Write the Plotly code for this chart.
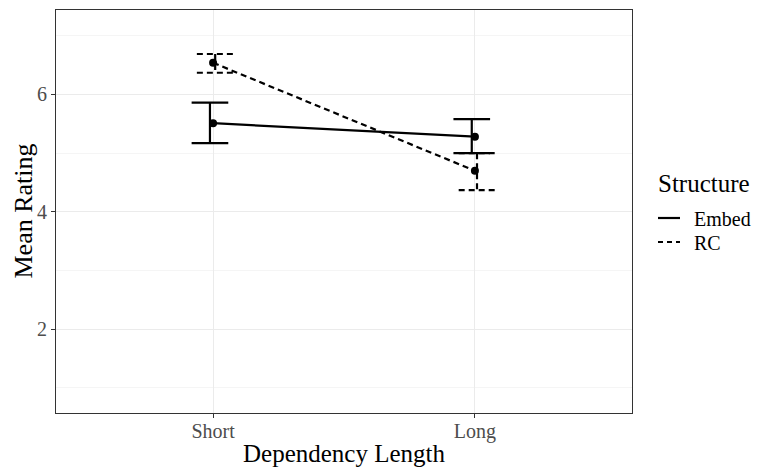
import plotly.graph_objects as go

categories = ["Short", "Long"]
cat_pos = [1, 2]
embed_mean = [5.51, 5.28]
embed_lo = [5.17, 5.00]
embed_hi = [5.86, 5.58]
rc_mean = [6.54, 4.70]
rc_lo = [6.37, 4.37]
rc_hi = [6.69, 5.00]
series_names = ["Embed", "RC"]
legend_title = "Structure"

FONT = "Liberation Serif"
DASH = "6px,4px"
W, H = 757, 468
L, R, T, B = 56, 125, 10, 55
PW, PH = W - L - R, H - T - B

fig = go.Figure()

def errbar(xs, lo, hi, dash, off, hw=0.07):
    X, Y = [], []
    for x, l, h in zip(xs, lo, hi):
        c = x + off
        X += [c - hw, c + hw, None, c, c, None, c - hw, c + hw, None]
        Y += [h, h, None, h, l, None, l, l, None]
    fig.add_trace(go.Scatter(x=X, y=Y, mode="lines", showlegend=False,
                             line=dict(color="black", width=2.2, dash=dash), hoverinfo="skip"))

errbar(cat_pos, embed_lo, embed_hi, "solid", -0.012)
errbar(cat_pos, rc_lo, rc_hi, DASH, 0.008)

fig.add_trace(go.Scatter(x=cat_pos, y=embed_mean, mode="lines", name="Embed", showlegend=False,
                         line=dict(color="black", width=2.2, dash="solid")))
fig.add_trace(go.Scatter(x=cat_pos, y=rc_mean, mode="lines", name="RC", showlegend=False,
                         line=dict(color="black", width=2.2, dash=DASH)))
fig.add_trace(go.Scatter(x=cat_pos + cat_pos, y=embed_mean + rc_mean, mode="markers",
                         showlegend=False, marker=dict(color="black", size=8)))

# manual legend (positions in pixels converted to paper coords)
def px(xp):
    return (xp - L) / PW
def py(yp):
    return (H - B - yp) / PH

shapes = []
annotations = []
annotations.append(dict(text=legend_title, xref="paper", yref="paper", x=px(656), y=py(183),
                        xanchor="left", yanchor="middle", showarrow=False,
                        font=dict(size=25, family=FONT, color="black")))
for i, (nm, dash) in enumerate(zip(series_names, ["solid", "dash"])):
    yy = 218 + 24 * i
    shapes.append(dict(type="line", xref="paper", yref="paper", x0=px(658), x1=px(680),
                       y0=py(yy), y1=py(yy), line=dict(color="black", width=2.2,
                       dash="5px,4px" if dash == "dash" else "solid")))
    annotations.append(dict(text=nm, xref="paper", yref="paper", x=px(692), y=py(yy + 1),
                            xanchor="left", yanchor="middle", showarrow=False,
                            font=dict(size=20, family=FONT, color="black")))

annotations += [
    dict(text="Dependency Length", xref="paper", yref="paper", x=0.5, y=0,
         yshift=-40, xanchor="center", yanchor="middle", showarrow=False,
         font=dict(size=25, family=FONT, color="black")),
    dict(text="Mean Rating", xref="paper", yref="paper", x=0, y=0.5,
         xshift=-33, xanchor="center", yanchor="middle", textangle=-90, showarrow=False,
         font=dict(size=26, family=FONT, color="black")),
]

fig.update_layout(
    width=W, height=H,
    margin=dict(l=L, r=R, t=T, b=B, autoexpand=False),
    paper_bgcolor="white", plot_bgcolor="white",
    font=dict(family=FONT, color="black"),
    showlegend=False,
    shapes=shapes,
    annotations=annotations,
    xaxis=dict(
        range=[0.4, 2.6], tickvals=cat_pos, ticktext=categories,
        showgrid=True, gridcolor="#EBEBEB", gridwidth=1,
        ticks="outside", ticklen=4, tickcolor="#333333",
        tickfont=dict(size=20, color="#4D4D4D", family=FONT),
        ticklabelstandoff=-4,
        automargin=False,
        showline=True, linecolor="#333333", linewidth=1, mirror=True, zeroline=False,
    ),
    yaxis=dict(
        range=[0.57, 7.44], tickvals=[2, 4, 6],
        showgrid=True, gridcolor="#EBEBEB", gridwidth=1,
        minor=dict(tickvals=[1, 3, 5, 7], showgrid=True, gridcolor="#F5F5F5", gridwidth=1),
        ticks="outside", ticklen=4, tickcolor="#333333",
        tickfont=dict(size=20, color="#4D4D4D", family=FONT),
        automargin=False,
        showline=True, linecolor="#333333", linewidth=1, mirror=True, zeroline=False,
    ),
)

fig.write_html("out.html", config={"displayModeBar": False},
               post_script="document.body.style.margin='0';document.body.style.padding='0';")
